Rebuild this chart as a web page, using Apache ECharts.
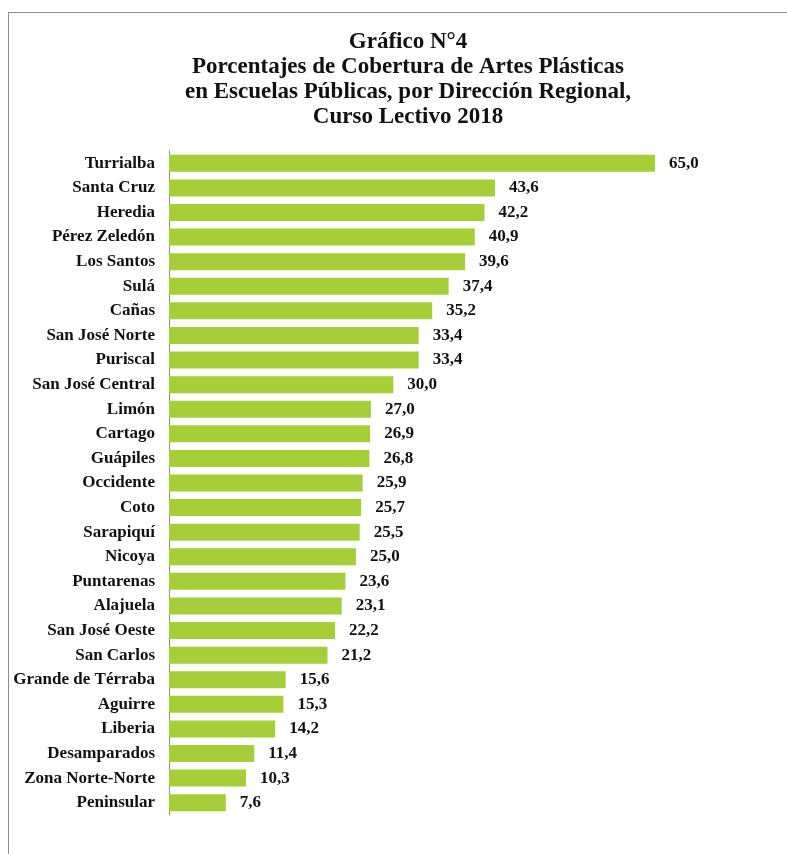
<!DOCTYPE html>
<html>
<head>
<meta charset="utf-8">
<script src="https://cdn.jsdelivr.net/npm/echarts@6/dist/echarts.min.js"></script>
<style>
  html, body { margin: 0; padding: 0; background: #fff; }
  #frame {
    position: absolute; left: 8px; top: 12px; width: 800px; height: 860px;
    border-left: 1px solid #8c8c8c; border-top: 1px solid #8c8c8c;
  }
  #chart { position: absolute; left: 0; top: 0; width: 787px; height: 854px; }
</style>
</head>
<body>
<div id="frame"></div>
<div id="chart"></div>
<script>
const regions = [
  "Turrialba", "Santa Cruz", "Heredia", "Pérez Zeledón", "Los Santos", "Sulá",
  "Cañas", "San José Norte", "Puriscal", "San José Central", "Limón", "Cartago",
  "Guápiles", "Occidente", "Coto", "Sarapiquí", "Nicoya", "Puntarenas",
  "Alajuela", "San José Oeste", "San Carlos", "Grande de Térraba", "Aguirre",
  "Liberia", "Desamparados", "Zona Norte-Norte", "Peninsular"
];
const coverage = [
  65.0, 43.6, 42.2, 40.9, 39.6, 37.4,
  35.2, 33.4, 33.4, 30.0, 27.0, 26.9,
  26.8, 25.9, 25.7, 25.5, 25.0, 23.6,
  23.1, 22.2, 21.2, 15.6, 15.3,
  14.2, 11.4, 10.3, 7.6
];
const titleLines = [
  "Gráfico N°4",
  "Porcentajes de Cobertura de Artes Plásticas",
  "en Escuelas Públicas, por Dirección Regional,",
  "Curso Lectivo 2018"
];

const serif = "'Liberation Serif', 'Times New Roman', serif";
const chart = echarts.init(document.getElementById("chart"));

chart.setOption({
  backgroundColor: "transparent",
  animation: false,
  title: {
    text: titleLines.join("\n"),
    left: 403,
    textAlign: "center",
    top: 25,
    textStyle: {
      fontFamily: serif,
      fontSize: 23,
      fontWeight: "bold",
      lineHeight: 25,
      color: "#111"
    }
  },
  grid: {
    left: 169,
    top: 151,
    width: 486,
    height: 664
  },
  xAxis: {
    type: "value",
    min: 0,
    max: 65,
    show: false
  },
  yAxis: {
    type: "category",
    data: regions,
    inverse: true,
    axisLine: { show: true, lineStyle: { color: "#8c8c8c", width: 1 } },
    axisTick: { show: false },
    axisLabel: {
      margin: 14,
      fontFamily: serif,
      fontSize: 17,
      fontWeight: "bold",
      color: "#111"
    }
  },
  series: [
    {
      type: "bar",
      data: coverage,
      barWidth: 17,
      itemStyle: { color: "#a6ce39" },
      label: {
        show: true,
        position: "right",
        distance: 14,
        fontFamily: serif,
        fontSize: 17,
        fontWeight: "bold",
        color: "#111",
        formatter: (p) => p.value.toFixed(1).replace(".", ",")
      }
    }
  ]
});
</script>
</body>
</html>
